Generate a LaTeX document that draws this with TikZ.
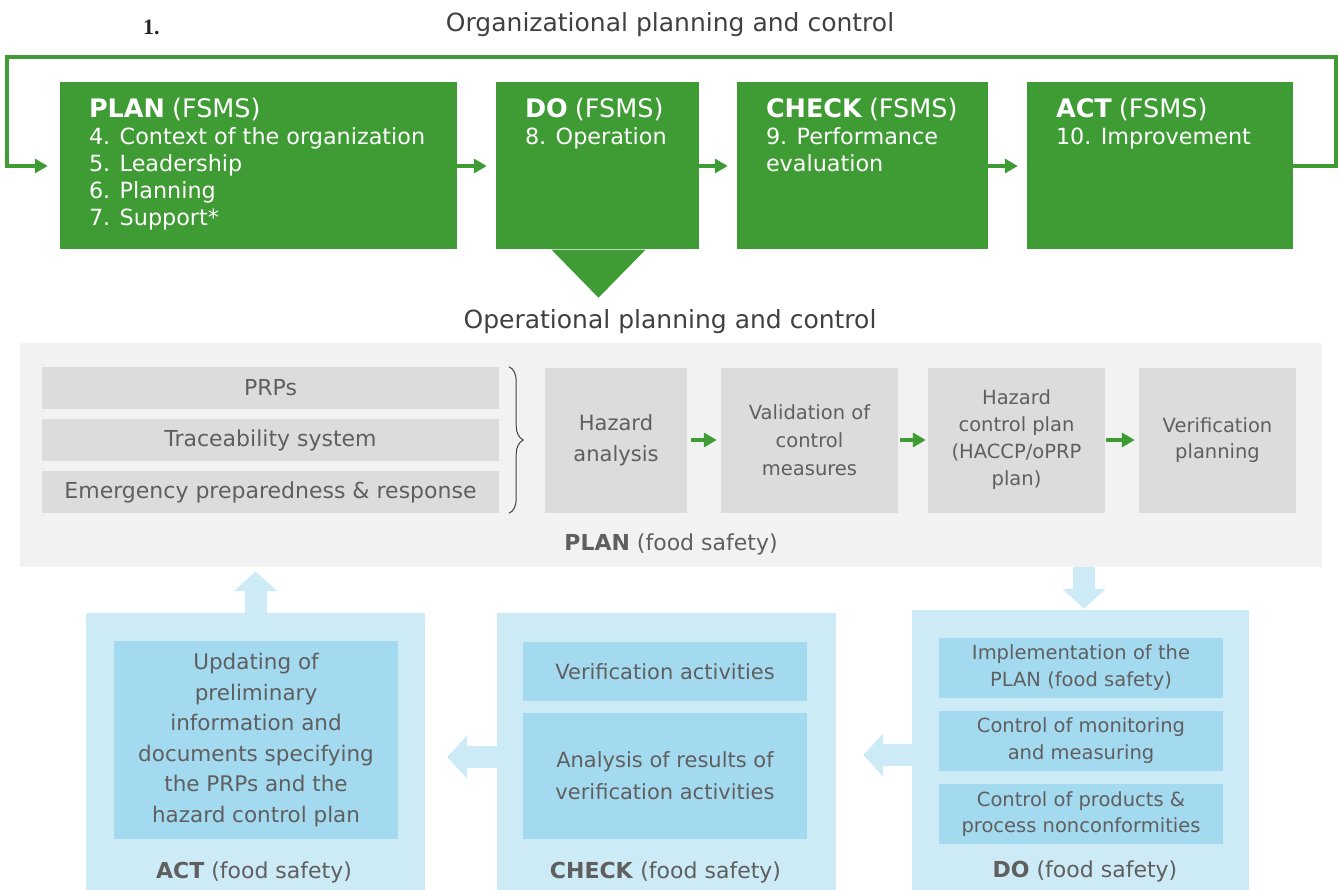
\documentclass[tikz,border=0pt]{standalone}
\usepackage{fontspec}
\newfontfamily\diagfont{DejaVu Sans}
\newfontfamily\numfont{Liberation Serif}
\usetikzlibrary{arrows.meta,positioning,decorations.pathreplacing}
\definecolor{fsmsgreen}{RGB}{63,156,53}
\definecolor{panelgray}{RGB}{242,242,242}
\definecolor{itemgray}{RGB}{220,220,220}
\definecolor{outerblue}{RGB}{204,235,246}
\definecolor{innerblue}{RGB}{164,218,240}
\definecolor{labelgray}{RGB}{95,95,95}
\definecolor{titlegray}{RGB}{64,64,64}
\newcommand{\fsz}[2]{\fontsize{#1}{#2}\selectfont}
\tikzset{
    title/.style={
    anchor=base,inner sep=0pt,text=titlegray,font=\diagfont\fsz{25}{30}
    },
    fsms/.style={
    rectangle,fill=fsmsgreen,inner sep=0pt,minimum height=167
    },
    fsmstext/.style={
    anchor=north west,align=left,text=white,inner sep=0pt,font=\diagfont\fsz{22.3}{27}
    },
    garrow/.style={
    draw=fsmsgreen,line width=4pt,-{Triangle[width=14pt,length=13pt]}
    },
    panel/.style={
    rectangle,fill=panelgray,inner sep=0pt
    },
    item/.style={
    rectangle,fill=itemgray,inner sep=0pt,minimum width=457,minimum height=42,
    text=labelgray,font=\diagfont\fsz{22}{27}
    },
    stage/.style={
    rectangle,fill=itemgray,inner sep=0pt,minimum height=145,align=center,
    text=labelgray,font=\diagfont\fsz{19.5}{27}
    },
    phase/.style={
    anchor=base,inner sep=0pt,text=labelgray,font=\diagfont\fsz{22}{27}
    },
    outer/.style={
    rectangle,fill=outerblue,inner sep=0pt
    },
    inner/.style={
    rectangle,fill=innerblue,inner sep=0pt,minimum width=284,align=center,
    text=labelgray,font=\diagfont\fsz{21}{30}
    },
    barrow/.style={
    draw=outerblue,line width=22pt,-{Triangle[width=42pt,length=20pt]}
    },
    brace/.style={
    draw=titlegray,line width=1pt,decorate,decoration={brace,amplitude=14pt}
    },
}

\begin{document}
\begin{tikzpicture}[x=1pt,y=-1pt,on grid]
   \useasboundingbox (0,0) rectangle (1340,890);
   %titles
   \node[title] (orgtitle) at (670,32) {Organizational planning and control};
   \node[anchor=base west,inner sep=0pt,text=black!85,font=\numfont\bfseries\fsz{22}{26}] (num) at (143,35) {1.};
   %plan
   \node[fsms,minimum width=397] (plan) at (258.5,166) {};
   \node[fsmstext] (plantext) at ([xshift=29pt,yshift=-16pt]plan.north west)
      {{\fsz{25.5}{27}\bfseries PLAN} {\fsz{25.5}{27}(FSMS)}\\4. Context of the organization\\5. Leadership\\6. Planning\\7. Support*};
   %do
   \node[fsms,minimum width=203] (do) [right=339pt of plan] {};
   \node[fsmstext] (dotext) at ([xshift=29pt,yshift=-16pt]do.north west)
      {{\fsz{25.5}{27}\bfseries DO} {\fsz{25.5}{27}(FSMS)}\\8. Operation};
   \fill[fsmsgreen] ([xshift=-46pt]do.south) -- ([xshift=48pt]do.south) -- ([xshift=1pt,yshift=-48pt]do.south) -- cycle;
   %check
   \node[fsms,minimum width=251] (check) [right=265pt of do] {};
   \node[fsmstext] (checktext) at ([xshift=29pt,yshift=-16pt]check.north west)
      {{\fsz{25.5}{27}\bfseries CHECK} {\fsz{25.5}{27}(FSMS)}\\9. Performance\\evaluation};
   %act
   \node[fsms,minimum width=266] (act) [right=297.5pt of check] {};
   \node[fsmstext] (acttext) at ([xshift=29pt,yshift=-16pt]act.north west)
      {{\fsz{25.5}{27}\bfseries ACT} {\fsz{25.5}{27}(FSMS)}\\10. Improvement};
   %loop
   \coordinate (looptop) at (670,57);
   \draw[garrow,shorten >=9pt] (plan) -- (do);
   \draw[garrow,shorten >=9pt] (do) -- (check);
   \draw[garrow,shorten >=9pt] (check) -- (act);
   \draw[garrow,shorten >=12pt] (act.east) -- ++(43,0) |- (looptop) -| ([xshift=-53pt]plan.west) -- (plan.west);

   %operational
   \node[title] (optitle) at (670,328) {Operational planning and control};
   \node[panel,minimum width=1302,minimum height=224] (panel) at (671,455) {};
   %prps
   \node[item] (prps) at (270.5,388) {PRPs};
   \node[item] (trace) [below=52pt of prps] {Traceability system};
   \node[item] (emer) [below=52pt of trace] {Emergency preparedness \& response};
   \draw[brace] ([xshift=10pt]prps.north east) -- ([xshift=10pt]emer.south east);
   %stages
   \node[stage,minimum width=142,font=\diagfont\fsz{21}{31}] (hazard) at (616,440) {Hazard\\analysis};
   \node[stage,minimum width=177,font=\diagfont\fsz{19.5}{28}] (valid) [right=193.5pt of hazard] {Validation of\\control\\measures};
   \node[stage,minimum width=177] (hcplan) [right=207pt of valid] {Hazard\\control plan\\(HACCP/oPRP\\plan)};
   \node[stage,minimum width=157,font=\diagfont\fsz{19.5}{26}] (verplan) [right=201pt of hcplan] {Verification\\planning};
   \node[phase] (planfs) at (671,550) {\textbf{PLAN} (food safety)};
   \draw[garrow,shorten <=4pt,shorten >=4pt] (hazard) -- (valid);
   \draw[garrow,shorten <=2pt,shorten >=2pt] (valid) -- (hcplan);
   \draw[garrow,shorten <=1pt,shorten >=4pt] (hcplan) -- (verplan);

   %act food safety
   \node[outer,minimum width=339,minimum height=277] (actfs) at (255.5,751.5) {};
   \node[inner,minimum height=198,font=\diagfont\fsz{21.5}{30.6}] (update) at (256,740)
      {Updating of\\preliminary\\information and\\documents specifying\\the PRPs and the\\hazard control plan};
   \node[phase] (actlabel) at (254,878) {\textbf{ACT} (food safety)};
   %check food safety
   \node[outer,minimum width=339,minimum height=277] (checkfs) [right=411pt of actfs] {};
   \node[inner,minimum height=59] (veract) at (665,671.5) {Verification activities};
   \node[inner,minimum height=126,font=\diagfont\fsz{21}{32}] (analysis) [below=104.5pt of veract]
      {Analysis of results of\\verification activities};
   \node[phase] (checklabel) at (665.5,878) {\textbf{CHECK} (food safety)};
   %do food safety
   \node[outer,minimum width=337,minimum height=280] (dofs) at (1080.5,750) {};
   \node[inner,minimum height=60,font=\diagfont\fsz{19.5}{27}] (impl) at (1081,668) {Implementation of the\\PLAN (food safety)};
   \node[inner,minimum height=60,font=\diagfont\fsz{19.5}{27}] (ctrlmon) [below=73pt of impl] {Control of monitoring\\and measuring};
   \node[inner,minimum height=60,font=\diagfont\fsz{19.5}{26}] (ctrlprod) [below=73pt of ctrlmon] {Control of products \&\\process nonconformities};
   \node[phase] (dolabel) at (1085,877) {\textbf{DO} (food safety)};

   %block arrows
   \coordinate (dotop) at ([xshift=3.5pt]dofs.north);
   \coordinate (doleft) at ([yshift=-5pt]dofs.west);
   \coordinate (checkleft) at ([yshift=-5.5pt]checkfs.west);
   \draw[barrow,shorten >=1pt] (dotop |- panel.south) -- (dotop);
   \draw[barrow,shorten >=27pt] (doleft) -- (doleft -| checkfs.east);
   \draw[barrow,shorten >=22pt] (checkleft) -- (checkleft -| actfs.east);
   \draw[barrow,shorten >=4pt] (actfs.north) -- (actfs.north |- panel.south);
\end{tikzpicture}
\end{document}
